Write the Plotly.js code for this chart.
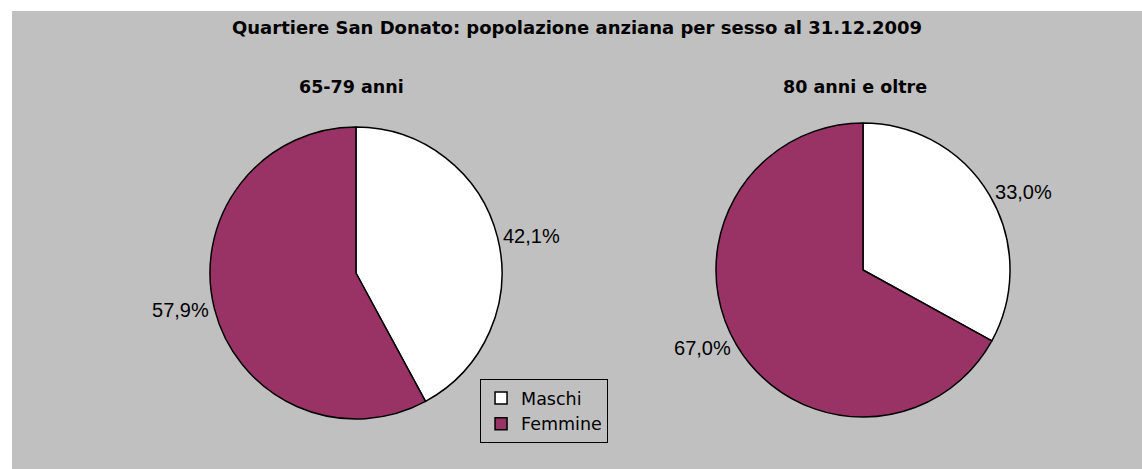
<!DOCTYPE html>
<html><head><meta charset="utf-8">
<script src="https://cdn.plot.ly/plotly-3.0.1.min.js"></script>
<style>
html,body{margin:0;padding:0;background:#fff;}
#chart{position:absolute;left:12px;top:11px;width:1130px;height:458px;}
</style></head>
<body><div id="chart"></div>
<script>
const categories = ["Maschi", "Femmine"];
const values6579 = [42.1, 57.9];
const values80 = [33.0, 67.0];
const chartTitle = "Quartiere San Donato: popolazione anziana per sesso al 31.12.2009";
const pieTitles = ["65-79 anni", "80 anni e oltre"];
const colors = ["#FFFFFF", "#993366"];

function fmt(v){ return v.toFixed(1).replace('.', ',') + '%'; }

function pie(vals, dom){
  return {
    type: 'pie', labels: categories, values: vals, sort: false,
    direction: 'clockwise', rotation: 0,
    marker: {colors: colors, line: {color: '#000', width: 1.5}},
    text: vals.map(fmt), textinfo: 'text', textposition: 'outside',
    outsidetextfont: {family: 'Liberation Sans, Arial', size: 20, color: '#000'},
    hoverinfo: 'label+text',
    domain: dom
  };
}

const data = [
  pie(values6579, {x: [0.1752, 0.4336], y: [0.1092, 0.7467]}),
  pie(values80, {x: [0.623, 0.8832], y: [0.1135, 0.7555]})
];

const tf = {family: 'DejaVu Sans', size: 17.5, color: '#000'};
const layout = {
  width: 1130, height: 458,
  margin: {l: 0, r: 0, t: 0, b: 0},
  paper_bgcolor: '#C0C0C0', plot_bgcolor: '#C0C0C0',
  showlegend: true,
  legend: {x: 0.4142, y: 0.1965, xanchor: 'left', yanchor: 'top',
    bgcolor: '#C0C0C0', bordercolor: '#000', borderwidth: 1,
    font: {family: 'DejaVu Sans', size: 17.5, color: '#000'},
    tracegroupgap: 0, itemwidth: 30},
  annotations: [
    {text: '<b>' + chartTitle + '</b>', x: 0.5, y: 0.965, xref: 'paper', yref: 'paper', showarrow: false, font: Object.assign({}, tf, {size: 18}), xanchor: 'center', yanchor: 'middle'},
    {text: '<b>' + pieTitles[0] + '</b>', x: 0.300, y: 0.834, xref: 'paper', yref: 'paper', showarrow: false, font: tf, xanchor: 'center', yanchor: 'middle'},
    {text: '<b>' + pieTitles[1] + '</b>', x: 0.746, y: 0.834, xref: 'paper', yref: 'paper', showarrow: false, font: tf, xanchor: 'center', yanchor: 'middle'}
  ]
};
Plotly.newPlot('chart', data, layout, {displayModeBar: false, staticPlot: true});
</script></body></html>
